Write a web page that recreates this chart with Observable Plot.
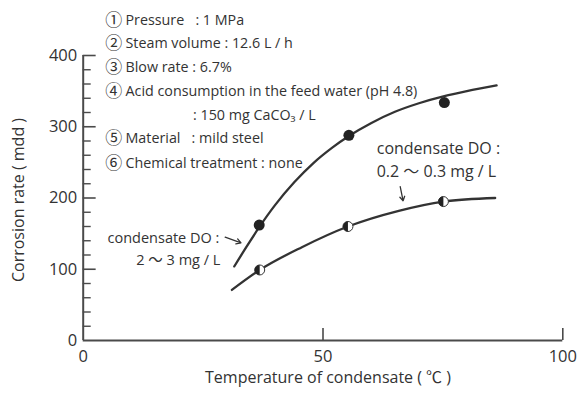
<!DOCTYPE html>
<html><head><meta charset="utf-8">
<script src="https://cdn.jsdelivr.net/npm/d3@7"></script>
<script src="https://cdn.jsdelivr.net/npm/@observablehq/plot@0.6"></script>
<style>body{margin:0;background:#fff}#c{width:577px;height:396px}</style>
</head><body><div id="c"></div>
<script>
// Data
const xTicks = [0, 50, 100];
const yMajor = [0, 100, 200, 300, 400];
const yMinor = [20, 40, 60, 80, 120, 140, 160, 180, 220, 240, 260, 280, 320, 340, 360, 380];

// Upper series: condensate DO 2~3 mg/L (filled dots)
const highDOPoints = [{t: 36.7, r: 162}, {t: 55.4, r: 288}, {t: 75.3, r: 334}];
const highDOCurve = [{t: 31.5, r: 104}, {t: 34, r: 131}, {t: 36.7, r: 159}, {t: 40, r: 190}, {t: 44, r: 222}, {t: 48, r: 249}, {t: 52, r: 271}, {t: 55.4, r: 287}, {t: 60, r: 305}, {t: 65, r: 321}, {t: 70, r: 333}, {t: 75.3, r: 343}, {t: 80, r: 350}, {t: 86.2, r: 358}];

// Lower series: condensate DO 0.2~0.3 mg/L (half-filled dots)
const lowDOPoints = [{t: 36.8, r: 99}, {t: 55.2, r: 160}, {t: 75.1, r: 195}];
const lowDOCurve = [{t: 31.0, r: 71}, {t: 36.8, r: 99}, {t: 45.6, r: 131}, {t: 55.2, r: 160}, {t: 65.8, r: 182}, {t: 75.1, r: 195}, {t: 85.9, r: 200}];

// Condition list
const condNums = ["①", "②", "③", "④", "", "⑤", "⑥"];
const condTexts = ["Pressure   : 1 MPa", "Steam volume : 12.6 L / h", "Blow rate : 6.7%", "Acid consumption in the feed water (pH 4.8)", "", "Material   : mild steel", "Chemical treatment : none"];
const condRowY = [449, 417, 383, 350, 316, 283, 248];
const condExtra = [{t: 22.9, r: 316, s: ": 150 mg CaCO₃ / L"}];

// Annotations
const leftLabel = [{t: 28.4, r: 143, s: "condensate DO :"}, {t: 28.6, r: 112, s: "2 ～ 3 mg / L"}];
const rightLabel = [{t: 61.2, r: 269, s: "condensate DO :"}, {t: 61.2, r: 236, s: "0.2 ～ 0.3 mg / L"}];
const arrows = [{x1: 29.6, y1: 145, x2: 32.9, y2: 137}, {x1: 66.1, y1: 216, x2: 66.7, y2: 196}];

const xLabel = "Temperature of condensate ( ℃ )";
const yLabel = "Corrosion rate ( mdd )";

const ink = "#333";
const axisInk = "#4a4a4a";
const font = "'Open Sans', 'Noto Sans CJK JP', sans-serif";

const halfLeft = {
  draw(ctx, size) {
    const r = Math.sqrt(size / Math.PI);
    ctx.moveTo(0, -r);
    ctx.arc(0, 0, r, -Math.PI / 2, Math.PI / 2, true);
    ctx.closePath();
  }
};

const rows = condTexts.map((s, i) => ({s, r: condRowY[i]})).filter(d => d.s);
const rowsN = condNums.map((n, i) => ({n, r: condRowY[i]})).filter(d => d.n);
const zeroX = d => 0;

const chart = Plot.plot({
  width: 577, height: 396,
  marginLeft: 82.7, marginRight: 14.7, marginTop: 55, marginBottom: 56,
  x: {type: "linear", domain: [0, 100], axis: null},
  y: {type: "linear", domain: [0, 400], axis: null},
  style: {fontFamily: font, color: ink, background: "#fff"},
  marks: [
    // axes
    Plot.ruleX([0], {x: d => d, y1: 0, y2: 400, stroke: axisInk, strokeWidth: 2}),
    Plot.ruleY([0], {y: d => d, x1: 0, x2: 100, stroke: axisInk, strokeWidth: 2}),
    Plot.ruleY(yMajor.filter(v => v > 0), {y: d => d, x1: 0, x2: 2.7, stroke: axisInk, strokeWidth: 1.6}),
    Plot.ruleY(yMinor, {y: d => d, x1: 0, x2: 1.67, stroke: axisInk, strokeWidth: 1.4}),
    Plot.ruleX(xTicks.filter(v => v > 0), {x: d => d, y1: 0, y2: 17, stroke: axisInk, strokeWidth: 1.6}),
    Plot.text(yMajor, {x: zeroX, y: d => d, text: d => String(d), textAnchor: "end", dx: -6, fontSize: 16.5, fill: ink}),
    Plot.text(xTicks, {x: d => d, y: d => 0, text: d => String(d), dy: 16, fontSize: 16.5, fill: ink}),
    Plot.text([xLabel], {frameAnchor: "bottom", textAnchor: "middle", dx: 5, dy: 42, fontSize: 16, fill: ink}),
    Plot.text([yLabel], {frameAnchor: "left", textAnchor: "middle", dx: -64, dy: 2, rotate: -90, fontSize: 16, fill: ink}),
    // curves
    Plot.line(highDOCurve, {x: "t", y: "r", curve: "monotone-x", stroke: ink, strokeWidth: 2.3}),
    Plot.line(lowDOCurve, {x: "t", y: "r", curve: "monotone-x", stroke: ink, strokeWidth: 2.3}),
    Plot.dot(highDOPoints, {x: "t", y: "r", r: 5.5, fill: "#222", stroke: "none"}),
    Plot.dot(lowDOPoints, {x: "t", y: "r", r: 5, fill: "#fff", stroke: ink, strokeWidth: 1}),
    Plot.dot(lowDOPoints, {x: "t", y: "r", r: 5, symbol: halfLeft, fill: "#222", stroke: "none"}),
    // condition list
    Plot.text(rowsN, {x: zeroX, y: "r", text: "n", dx: 30.5, fontSize: 17, fill: ink, fontFamily: "'Noto Sans CJK JP', sans-serif"}),
    Plot.text(rows, {x: zeroX, y: "r", text: "s", dx: 42.3, textAnchor: "start", fontSize: 14.3, fill: ink}),
    Plot.text(condExtra, {x: "t", y: "r", text: "s", textAnchor: "start", fontSize: 14.3, fill: ink}),
    // annotations
    Plot.text(leftLabel, {x: "t", y: "r", text: "s", textAnchor: "end", fontSize: 14.5, fill: ink}),
    Plot.text(rightLabel, {x: "t", y: "r", text: "s", textAnchor: "start", fontSize: 16, fill: ink}),
    Plot.arrow(arrows, {x1: "x1", y1: "y1", x2: "x2", y2: "y2", stroke: ink, strokeWidth: 1.3, headLength: 6})
  ]
});
document.getElementById("c").appendChild(chart);
</script></body></html>
